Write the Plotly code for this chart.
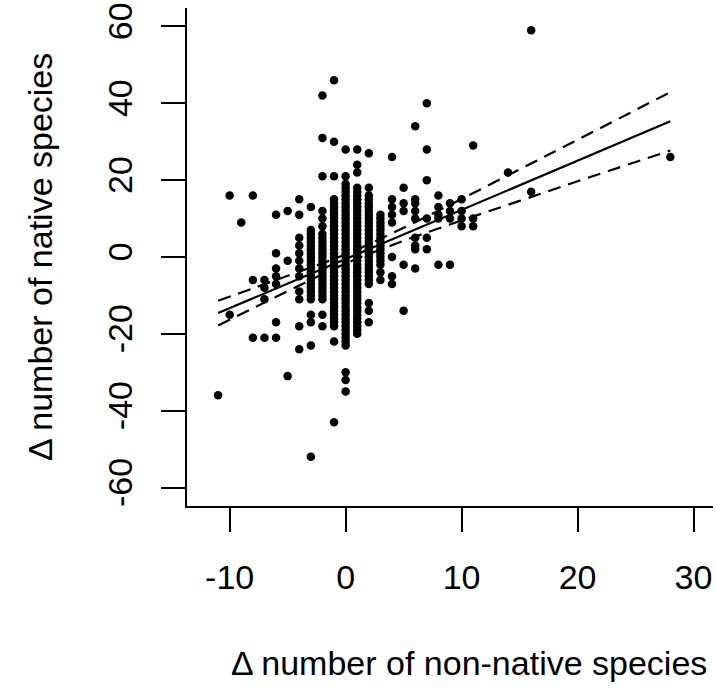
import plotly.graph_objects as go

# change in number of non-native species (x) for each column of points
delta_nonnative = [-11, -10, -9, -8, -7, -6, -5, -4, -3, -2, -1, 0, 1, 2, 3, 4, 5, 6, 7, 8, 9, 10, 11, 14, 16, 28]

# change in number of native species (y) observed at each x value above
delta_native_by_column = [
    [-36],
    [16, -15],
    [9],
    [16, -6, -21],
    [-6, -8, -11, -21],
    [11, 1, -3, -5, -7, -17, -21],
    [12, -1, -31],
    [15, 11, 5, 3, 1, -1, -3, -5, -9, -11, -18, -24],
    [13, 7, 6, 5, 4, 3, 2, 1, 0, -1, -2, -3, -4, -5, -6, -7, -8, -9, -10, -11, -15, -17, -23, -52],
    [42, 31, 21, 12, 10, 8, 6, 5, 4, 3, 2, 1, 0, -1, -2, -3, -4, -5, -6, -7, -8, -9, -10, -11, -15, -18],
    [46, 30, 21, 15, 14, 13, 12, 11, 10, 9, 8, 7, 6, 5, 4, 3, 2, 1, 0, -1, -2, -3, -4, -5, -6, -7, -8, -9,
     -10, -11, -12, -13, -14, -15, -16, -17, -18, -22, -43],
    [28, 21, 19, 18, 17, 16, 15, 14, 13, 12, 11, 10, 9, 8, 7, 6, 5, 4, 3, 2, 1, 0, -1, -2, -3, -4, -5, -6,
     -7, -8, -9, -10, -11, -12, -13, -14, -15, -16, -17, -18, -19, -20, -21, -22, -23, -30, -32, -35],
    [28, 24, 22, 18, 17, 16, 15, 14, 13, 12, 11, 10, 9, 8, 7, 6, 5, 4, 3, 2, 1, 0, -1, -2, -3, -4, -5, -6,
     -7, -8, -9, -10, -11, -12, -13, -14, -15, -16, -17, -18, -19, -20],
    [27, 18, 16, 15, 14, 13, 12, 11, 10, 9, 8, 7, 6, 5, 4, 3, 2, 1, 0, -1, -2, -3, -4, -5, -6, -7, -12, -14, -17],
    [11, 10, 9, 8, 7, 6, 5, 4, 3, 2, 1, 0, -1, -2, -4, -6],
    [26, 15, 13, 11, 9, 0, -5, -7],
    [18, 14, 12, -2, -14],
    [34, 15, 14, 12, 10, 5, 3, 2, -3],
    [40, 28, 20, 10, 5, 2],
    [16, 13, 11, 10, -2],
    [14, 12, 10, -2],
    [15, 12, 10, 8],
    [29, 10, 8],
    [22],
    [59, 17],
    [26],
]

# fitted regression line and its confidence band
fit_x = [-11, 28]
fit_y = [-14.6, 35.3]
ci_x = [-11, -5, 0, 5, 10, 15, 20, 28]
ci_upper = [-11.4, -4.9, 0.7, 7.6, 15.1, 22.8, 30.5, 42.9]
ci_lower = [-17.8, -8.9, -1.7, 4.2, 9.5, 14.6, 19.7, 27.7]

x_ticks = [-10, 0, 10, 20, 30]
x_tick_labels = ["-10", "0", "10", "20", "30"]
y_ticks = [-60, -40, -20, 0, 20, 40, 60]
y_tick_labels = ["-60", "-40", "-20", "0", "20", "40", "60"]

x_title = "Δ number of non-native species"
y_title = "Δ number of native species"

xs, ys = [], []
for xv, col in zip(delta_nonnative, delta_native_by_column):
    xs.extend([xv] * len(col))
    ys.extend(col)

FONT = "Liberation Sans, Arial, Helvetica, sans-serif"
FS = 34

fig = go.Figure()
fig.add_trace(go.Scatter(x=xs, y=ys, mode="markers",
                         marker=dict(size=8.5, color="black", line=dict(width=0)),
                         showlegend=False, hoverinfo="x+y"))
fig.add_trace(go.Scatter(x=fit_x, y=fit_y, mode="lines",
                         line=dict(color="black", width=2.2), showlegend=False))
for band in (ci_upper, ci_lower):
    fig.add_trace(go.Scatter(x=ci_x, y=band, mode="lines",
                             line=dict(color="black", width=2.2, dash="13px,8px", shape="spline"),
                             showlegend=False))

fig.update_layout(
    width=716, height=691,
    margin=dict(l=187, r=3, t=3, b=185, pad=0),
    plot_bgcolor="white", paper_bgcolor="white",
    font=dict(family=FONT, size=FS, color="black"),
    xaxis=dict(range=[-13.68, 31.68], tickvals=x_ticks, ticktext=x_tick_labels,
               ticks="outside", ticklen=24, tickwidth=2,
               tickcolor="black", showline=True, linewidth=2, linecolor="black",
               showgrid=False, zeroline=False, ticklabelstandoff=16, ticklabeloverflow="allow"),
    yaxis=dict(range=[-64.8, 64.8], tickvals=y_ticks, ticktext=y_tick_labels,
               ticks="outside", ticklen=24, tickwidth=2,
               tickcolor="black", showline=True, linewidth=2, linecolor="black",
               showgrid=False, zeroline=False, tickangle=-90, ticklabelstandoff=15,
               ticklabeloverflow="allow"),
    annotations=[
        dict(text=x_title, xref="paper", yref="paper", x=0.536, y=-0.316,
             xanchor="center", yanchor="middle", showarrow=False,
             font=dict(size=FS, family=FONT, color="black")),
        dict(text=y_title, xref="paper", yref="paper", x=-0.2795, y=0.5,
             xanchor="center", yanchor="middle", textangle=-90, showarrow=False,
             font=dict(size=FS, family=FONT, color="black")),
    ],
)

fig.write_html("out.html", config={"displayModeBar": False},
               post_script="document.body.style.margin='0';")
